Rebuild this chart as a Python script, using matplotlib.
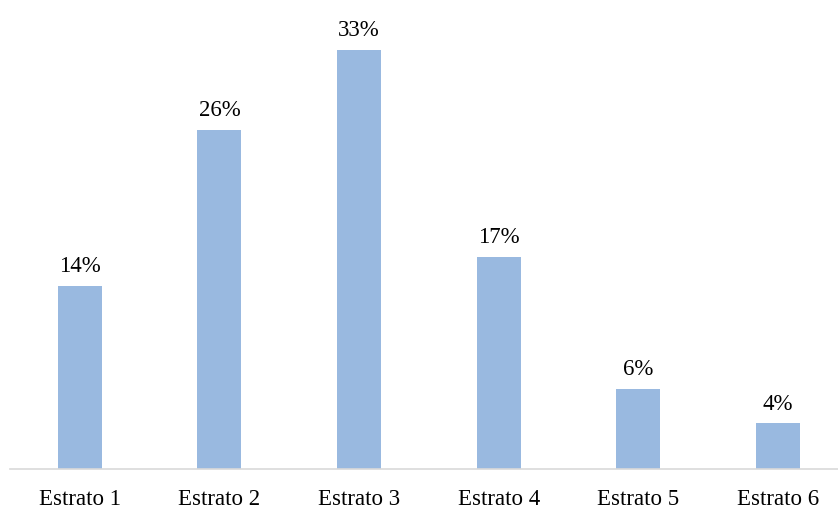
import matplotlib
matplotlib.use("Agg")
import matplotlib.pyplot as plt

categories = ["Estrato 1", "Estrato 2", "Estrato 3", "Estrato 4", "Estrato 5", "Estrato 6"]
values = [14.4, 26.7, 33.0, 16.7, 6.3, 3.6]
labels = ["14%", "26%", "33%", "17%", "6%", "4%"]

plt.rcParams['font.family'] = ['Liberation Serif', 'DejaVu Serif']

fig = plt.figure(figsize=(8.38, 5.10), dpi=100)
ax = fig.add_axes([10/838, 40/510, 828/838, 431/510])
x = list(range(len(categories)))
bars = ax.bar(x, values, width=0.315, color="#99B9E0", zorder=2)
for b, lab in zip(bars, labels):
    ax.annotate(lab, (b.get_x() + b.get_width()/2, b.get_height()),
                xytext=(0, 7), textcoords="offset points",
                ha="center", va="bottom", fontsize=16.5, color="black")
ax.set_xlim(-0.5, 5.43)
ax.set_ylim(0, 33.0 * 421 / 420 * 1.0 * 431 / 421 * 421 / 420)
ax.set_xticks(x)
ax.set_xticklabels(categories, fontsize=16.5)
ax.tick_params(axis='x', length=0, pad=14)
ax.set_yticks([])
for s in ["top", "right", "left"]:
    ax.spines[s].set_visible(False)
ax.spines["bottom"].set_color("#D9D9D9")
ax.spines["bottom"].set_linewidth(1.2)
fig.savefig("out.png", dpi=100)
